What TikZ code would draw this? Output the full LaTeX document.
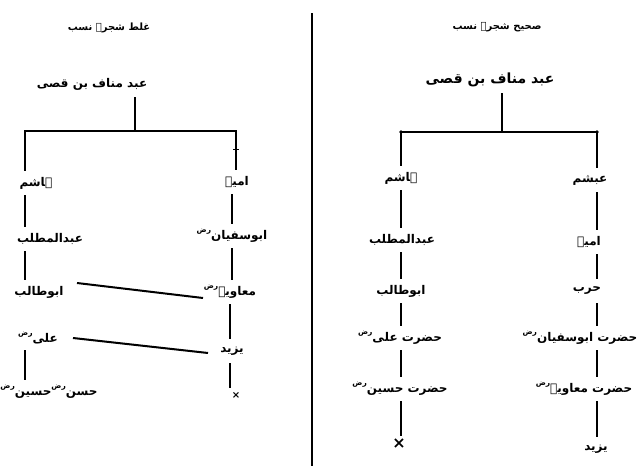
\documentclass[tikz,border=0pt]{standalone}
\usepackage{fontspec}
\TeXXeTstate=1
\newfontfamily\urdu[Script=Arabic]{DejaVu Sans}
\newcommand{\rz}{\raisebox{1.1ex}{\fontsize{7.5}{8}\selectfont\beginR رض\endR}}
\newcommand{\ur}[1]{\beginR #1\endR}
\begin{document}
\begin{tikzpicture}[x=1pt,y=-1pt,
  ln/.style={line width=2pt},
  nm/.style={font=\urdu\bfseries\fontsize{12}{14}\selectfont, inner sep=0pt, minimum height=24pt},
  ttl/.style={font=\urdu\bfseries\fontsize{10}{12}\selectfont, inner sep=0pt},
  rtL/.style={font=\urdu\bfseries\fontsize{12}{15}\selectfont, inner sep=0pt, minimum height=26pt},
  rtR/.style={font=\urdu\bfseries\fontsize{14}{17}\selectfont, inner sep=0pt, minimum height=26pt},
  crs/.style={font=\urdu\bfseries\fontsize{10}{12}\selectfont, inner sep=0pt, minimum height=14pt}]
\useasboundingbox (0,0) rectangle (641,466);
% divider
\coordinate (dTop) at (312,13);
\coordinate (dBot) at (312,466);
\draw[line width=2pt] (dTop) -- (dBot);

% ===== left: wrong tree =====
\node[ttl] (ttlL) at (109,28) {\ur{غلط شجرہ نسب}};
\node[rtL] (rootL) at (92,84) {\ur{عبد مناف بن قصی}};
\coordinate (jL) at (135,131);
\coordinate (cLa) at (25,131);
\coordinate (cLb) at (236,131);
\coordinate (cLc) at (232,131);
\coordinate (cLd) at (230,131);
\node[nm] (hasL) at (36,183) {\ur{ہاشم}};
\node[nm] (abdL) at (50,239) {\ur{عبدالمطلب}};
\node[nm] (abuL) at (39,292) {\ur{ابوطالب}};
\node[nm] (aliL) at (38,338) {\ur{علی\rz}};
\node[nm] (hsnL) at (49,392) {\ur{حسن\rz{}حسین\rz}};
\node[nm] (umaL) at (237,182) {\ur{امیہ}};
\node[nm] (sufL) at (232,236) {\ur{ابوسفیان\rz}};
\node[nm] (muaL) at (230,292) {\ur{معاویہ\rz}};
\node[nm] (yazL) at (232,351) {\ur{یزید}};
\node[crs] (endL) at (236,395) {×};

\draw[ln] (rootL.south -| jL) -- (jL);
\draw[ln] (hasL.north -| cLa) -- (cLa) -- (cLb) -- (umaL.north -| cLb);
\draw[line width=1pt] ([xshift=-3pt]cLb |- 0,149) -- ([xshift=3pt]cLb |- 0,149);
\draw[ln] (hasL.south -| cLa) -- (abdL.north -| cLa);
\draw[ln] (abdL.south -| cLa) -- (abuL.north -| cLa);
\draw[ln] (aliL.south -| cLa) -- (hsnL.north -| cLa);
\draw[ln] (umaL.south -| cLc) -- (sufL.north -| cLc);
\draw[ln] (sufL.south -| cLc) -- (muaL.north -| cLc);
\draw[ln] (muaL.south -| cLd) -- (yazL.north -| cLd);
\draw[ln] (yazL.south -| cLd) -- (endL.north -| cLd);
% cross links
\draw[ln] ([shift={(38,-9)}]abuL.center) -- ([shift={(-27,6)}]muaL.center);
\draw[ln] ([shift={(35,0)}]aliL.center) -- ([shift={(-24,2)}]yazL.center);

% ===== right: correct tree =====
\node[ttl] (ttlR) at (497,27) {\ur{صحیح شجرہ نسب}};
\node[rtR] (rootR) at (490,80) {\ur{عبد مناف بن قصی}};
\coordinate (jR) at (502,132);
\coordinate (cRa) at (401,132);
\coordinate (cRb) at (597,132);
\node[nm] (hasR) at (401,178) {\ur{ہاشم}};
\node[nm] (abdR) at (402,240) {\ur{عبدالمطلب}};
\node[nm] (abuR) at (401,291) {\ur{ابوطالب}};
\node[nm] (aliR) at (400,338) {\ur{حضرت علی\rz}};
\node[nm] (husR) at (400,389) {\ur{حضرت حسین\rz}};
\node[font=\urdu\bfseries\fontsize{16}{16}\selectfont, inner sep=0pt, minimum height=16pt] (endR) at (399,444) {×};
\node[nm] (absR) at (590,180) {\ur{عبشم}};
\node[nm] (umaR) at (589,242) {\ur{امیہ}};
\node[nm] (hrbR) at (587,291) {\ur{حرب}};
\node[nm] (sufR) at (580,338) {\ur{حضرت ابوسفیان\rz}};
\node[nm] (muaR) at (584,389) {\ur{حضرت معاویہ\rz}};
\node[nm] (yazR) at (596,449) {\ur{یزید}};

\draw[ln] (rootR.south -| jR) -- (jR);
\draw[ln] (hasR.north -| cRa) -- (cRa) -- (cRb) -- (absR.north -| cRb);
\fill (cRa) circle (1.8pt) (cRb) circle (1.8pt);
\draw[ln] (hasR.south -| cRa) -- (abdR.north -| cRa);
\draw[ln] (abdR.south -| cRa) -- (abuR.north -| cRa);
\draw[ln] (abuR.south -| cRa) -- (aliR.north -| cRa);
\draw[ln] (aliR.south -| cRa) -- (husR.north -| cRa);
\draw[ln] (husR.south -| cRa) -- (endR.north -| cRa);
\draw[ln] (absR.south -| cRb) -- (umaR.north -| cRb);
\draw[ln] (umaR.south -| cRb) -- (hrbR.north -| cRb);
\draw[ln] (hrbR.south -| cRb) -- (sufR.north -| cRb);
\draw[ln] (sufR.south -| cRb) -- (muaR.north -| cRb);
\draw[ln] (muaR.south -| cRb) -- (yazR.north -| cRb);
\end{tikzpicture}
\end{document}
